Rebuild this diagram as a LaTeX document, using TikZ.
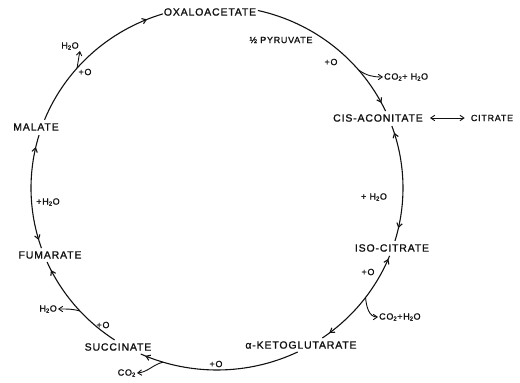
\documentclass[tikz,border=0pt]{standalone}
\usepackage{fontspec}
\setmainfont{Liberation Sans}
\newfontfamily\letterfont[LetterSpace=8,FakeBold=1.2]{Liberation Sans}
\usetikzlibrary{arrows.meta,calc,decorations.markings}
\definecolor{kc-ink}{HTML}{111111}
\newcommand{\ringpt}[2]{\coordinate (#1) at ($(c)+(#2:186pt and 182pt)$);}

\begin{document}
\begin{tikzpicture}[x=1pt,y=1pt,>={Straight Barb[length=4pt,width=5.5pt]},
  ring/.style={kc-ink,line width=1.1pt},
  side/.style={kc-ink,line width=0.9pt},
  radii/.style={x radius=186pt,y radius=182pt},
  fwd/.style={postaction={decorate,decoration={markings,mark=at position #1 with {\arrow{>}}}}},
  bwd/.style={postaction={decorate,decoration={markings,mark=at position #1 with {\arrowreversed{>}}}}},
  acid/.style={kc-ink,inner sep=1pt,font=\letterfont\fontsize{10.5}{12}\selectfont},
  extra/.style={kc-ink,inner sep=1pt,font=\letterfont\fontsize{9}{10}\selectfont}]
\useasboundingbox (0,0) rectangle (520,-383);
\coordinate (c) at (217,-188);

% ============ acids round the cycle ============
\node[acid] (oxa) at (210,-12)  {OXALOACETATE};
\node[acid] (cis) at (378,-118) {CIS-ACONITATE};
\node[extra] (cit) at (492,-118) {CITRATE};
\node[acid] (iso) at (392,-248) {ISO-CITRATE};
\node[acid] (akg) at (301,-345) {α-KETOGLUTARATE};
\node[acid] (suc) at (118,-347) {SUCCINATE};
\node[acid] (fum) at (50,-255)  {FUMARATE};
\node[acid] (mal) at (36,-127)  {MALATE};

\draw[side,<->,shorten <=6pt,shorten >=5pt] (cis.east) -- (cit.west);

% ============ what goes in and out ============
\node[extra] (pyr) at (281,-40) {½ PYRUVATE};
\node[extra] (o-1) at (331,-62) {+O};
\node[extra,anchor=west] (out-1) at (383,-77) {CO\textsubscript{2}+ H\textsubscript{2}O};
\node[extra] (w-1) at (374,-197) {+ H\textsubscript{2}O};
\node[extra] (o-2) at (368,-272) {+O};
\node[extra,anchor=west] (out-2) at (378,-317) {CO\textsubscript{2}+H\textsubscript{2}O};
\node[extra] (o-3) at (216,-364) {+O};
\node[extra,anchor=east] (out-3) at (137,-373) {CO\textsubscript{2}};
\node[extra] (o-4) at (103,-325) {+O};
\node[extra,anchor=east] (out-4) at (58,-309) {H\textsubscript{2}O};
\node[extra] (w-2) at (48,-202) {+H\textsubscript{2}O};
\node[extra] (o-5) at (85,-72) {+O};
\node[extra] (out-5) at (70,-46) {H\textsubscript{2}O};

% ============ the ring, one arc per step ============
\ringpt{ra}{77.3}  \ringpt{rb}{19.9}  \ringpt{rc}{-21.9}
\ringpt{rd}{-64.3} \ringpt{re}{236.6} \ringpt{rf}{199.3}
\ringpt{rg}{158.0}
\draw[ring,fwd=0.946] (ra) arc[radii,start angle=77.3,end angle=25.0];
\draw[ring,bwd=0.06,fwd=0.886] (rb) arc[radii,start angle=19.9,end angle=-16.9];
\draw[ring,bwd=0.03,fwd=0.92] (rc) arc[radii,start angle=-21.9,end angle=-55.5];
\draw[ring,fwd=0.97] (rd) arc[radii,start angle=-64.3,end angle=-114.2];
\draw[ring,fwd=0.914] (re) arc[radii,start angle=236.6,end angle=204.0];
\draw[ring,bwd=0.075,fwd=0.892] (rf) arc[radii,start angle=199.3,end angle=163.1];
\draw[ring,fwd=0.898] (rg) arc[radii,start angle=158.0,end angle=106.9];

% side branches
\ringpt{b1}{40.4} \ringpt{b2}{-37} \ringpt{b3}{253.1}
\ringpt{b4}{222.5} \ringpt{b5}{138.8}
\draw[side,->] (b1) to[out=-35,in=180] (out-1.west);
\draw[side,->] (b2) to[out=-85,in=180] (out-2.west);
\draw[side,->] (b3) to[out=195,in=5] (out-3.east);
\draw[side,->] (b4) to[out=165,in=0] (out-4.east);
\draw[side,->] (b5) -- (out-5.south east);

\end{tikzpicture}
\end{document}
